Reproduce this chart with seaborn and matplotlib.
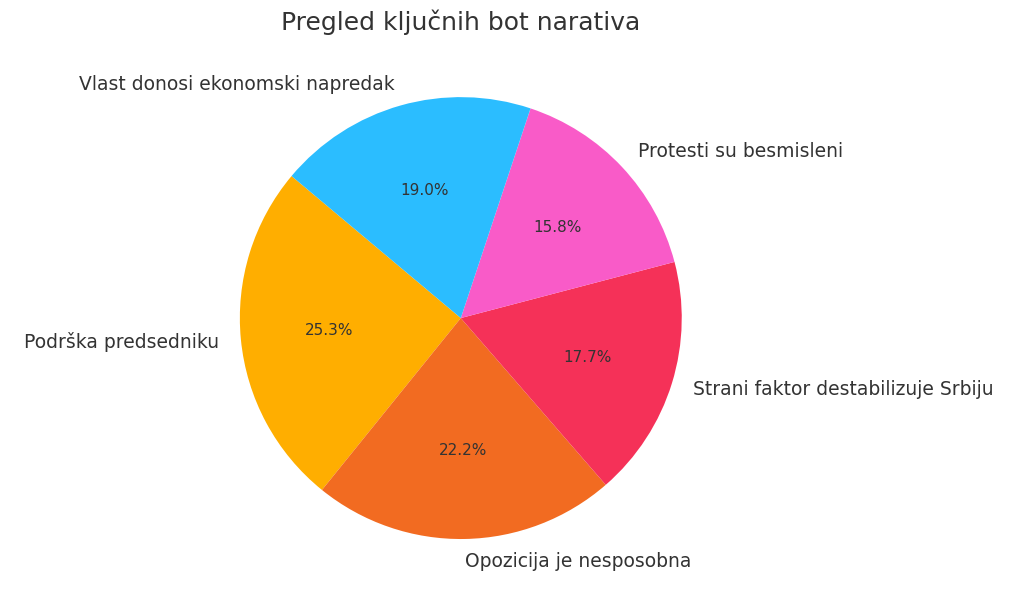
import matplotlib
matplotlib.use("Agg")
import matplotlib.pyplot as plt
import seaborn as sns

sns.set_theme(style="white")
plt.rcParams['font.family'] = ['DejaVu Sans']
plt.rcParams['text.color'] = '#333333'

labels = ["Podrška predsedniku", "Opozicija je nesposobna", "Strani faktor destabilizuje Srbiju",
          "Protesti su besmisleni", "Vlast donosi ekonomski napredak"]
values = [25.3, 22.2, 17.7, 15.8, 19.0]
colors = ["#FFAE00", "#F26B21", "#F53158", "#F95BC8", "#2BBDFF"]

fig = plt.figure(figsize=(10.24, 6.07), dpi=100)
ax = fig.add_axes([0.234, 0.112, 0.432, 0.728])
ax.pie(values, labels=labels, colors=colors, autopct="%1.1f%%", startangle=140,
       textprops={'fontsize': 11, 'color': '#333333'}, labeldistance=1.1, pctdistance=0.6,
       wedgeprops={'linewidth': 0})
for t in ax.texts:
    if '%' not in t.get_text():
        t.set_fontsize(13.5)
ax.set_xlim(-1, 1)
ax.set_ylim(-1, 1)
ax.set_aspect('equal')
fig.suptitle("Pregled ključnih bot narativa", fontsize=18, x=0.45, y=0.985, color='#333333')
fig.savefig("out.png", dpi=100)
